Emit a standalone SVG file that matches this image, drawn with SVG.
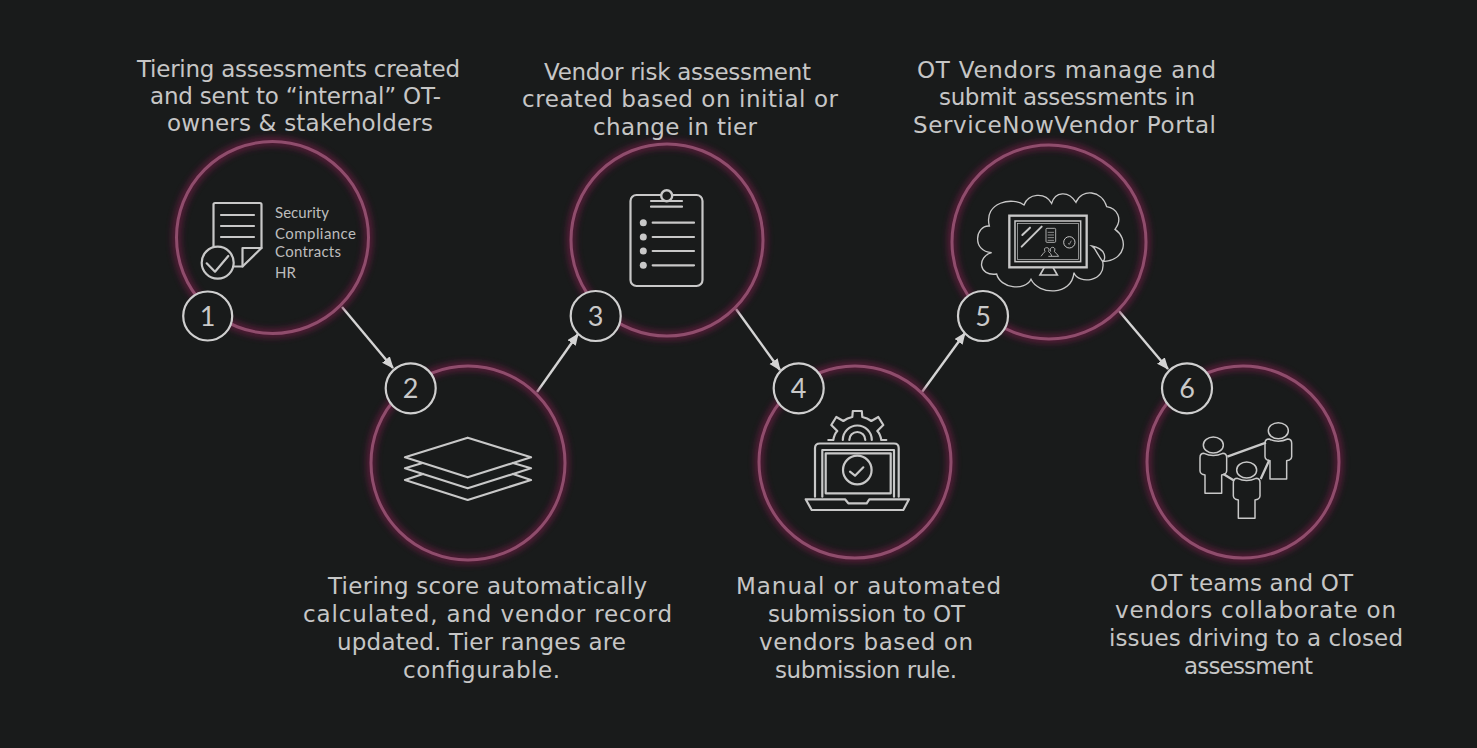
<svg xmlns="http://www.w3.org/2000/svg" xmlns:xlink="http://www.w3.org/1999/xlink" width="1477" height="748" viewBox="0 0 1477 748">
<style>
.bg{fill:#191b1b}
.glow{fill:none;stroke:#7a1d4a;stroke-width:9;opacity:.62}
.ring{fill:none;stroke:#8f4d6c;stroke-width:3}
.num{fill:#191b1b;stroke:#cfcfcf;stroke-width:2.2}
.numt{font-family:"Lato","Noto Sans",sans-serif;font-size:27px;fill:#c9c9c9;text-anchor:middle}
.cap{font-family:"DejaVu Sans","Liberation Sans",sans-serif;font-size:23px;fill:#c6c6c6}
.small{font-family:"Lato","Noto Sans",sans-serif;font-size:15px;fill:#bdbdbd}
.ic{fill:none;stroke:#c8c8c8;stroke-width:2.2;stroke-linejoin:round;stroke-linecap:round}
.thin{fill:none;stroke:#c8c8c8;stroke-width:1.5;stroke-linejoin:round;stroke-linecap:round}
.dot{fill:#c8c8c8}
.arr{stroke:#d4d4d4;stroke-width:2.4;fill:none;marker-end:url(#ah)}
</style>
<defs>
<marker id="ah" markerUnits="userSpaceOnUse" markerWidth="14" markerHeight="12" refX="11" refY="5" orient="auto"><path d="M0 0L12 5L0 10Z" fill="#d4d4d4"/></marker>
<filter id="blur" x="-20%" y="-20%" width="140%" height="140%"><feGaussianBlur stdDeviation="3.2"/></filter>
<g id="person" fill="#191b1b" stroke="#c8c8c8" stroke-width="4.5" stroke-linejoin="round">
<ellipse cx="0" cy="0" rx="30" ry="24"/>
<path d="M-25 145V90L-33 88Q-40 85-40 78V38Q-40 25-28 25Q0 38 28 25Q40 25 40 38V78Q40 85 33 88L25 90V145Z"/>
</g>
</defs>
<rect class="bg" width="1477" height="748"/>

<g id="connectors">
<path class="arr" d="M342 307L393 368"/>
<path class="arr" d="M537 392L578 334"/>
<path class="arr" d="M736 309L780 370"/>
<path class="arr" d="M922 392L965 333"/>
<path class="arr" d="M1119 311L1168 369"/>
</g>

<g id="node1">
<circle class="glow" cx="272.500" cy="237.500" r="96" filter="url(#blur)"/>
<circle class="ring" cx="272.500" cy="237.500" r="96"/>
<path class="ic" d="M213.500 247V204.500Q213.500 203 215 203H260Q261.500 203 261.500 204.500V248L242.500 266.500H233"/>
<path class="ic" d="M242.500 266.500V248H261.500M221 215H254M221 226H254M221 237H254"/>
<circle class="ic" cx="217.700" cy="262.700" r="16"/>
<path class="ic" d="M206.700 263.300L215 271.700L228.300 256" stroke-width="2.600"/>
<text class="small" x="275" y="218" textLength="54">Security</text>
<text class="small" x="275" y="239" textLength="81">Compliance</text>
<text class="small" x="275" y="257" textLength="66">Contracts</text>
<text class="small" x="275" y="278" textLength="21">HR</text>
<circle class="num" cx="207.700" cy="316" r="24.500"/>
<text class="numt" x="207.700" y="325.500">1</text>
<text class="cap" x="137" y="77" textLength="323">Tiering assessments created</text>
<text class="cap" x="150" y="104" textLength="291">and sent to “internal” OT-</text>
<text class="cap" x="167" y="131" textLength="266">owners &amp; stakeholders</text>
</g>

<g id="node2">
<circle class="glow" cx="468" cy="463" r="97" filter="url(#blur)"/>
<circle class="ring" cx="468" cy="463" r="97"/>
<path class="ic" d="M467.700 437.700L531 457.300L467.700 477.300L405 457.300Z"/>
<path class="ic" d="M421.700 463.300L405 468.300L467.700 488.300L531 468.300L513 463"/>
<path class="ic" d="M423 474L405 480L467.700 500L531 480L513 474"/>
<circle class="num" cx="410.700" cy="388.300" r="25"/>
<text class="numt" x="410.700" y="397.500">2</text>
<text class="cap" x="328" y="594" textLength="319">Tiering score automatically</text>
<text class="cap" x="303" y="622" textLength="369">calculated, and vendor record</text>
<text class="cap" x="337" y="650" textLength="289">updated. Tier ranges are</text>
<text class="cap" x="403" y="678" textLength="157">configurable.</text>
</g>

<g id="node3">
<circle class="glow" cx="667" cy="240" r="96" filter="url(#blur)"/>
<circle class="ring" cx="667" cy="240" r="96"/>
<rect class="ic" x="630.500" y="195" width="72" height="91" rx="6" stroke-width="2.600"/>
<circle cx="666.700" cy="195.700" r="5.500" fill="#191b1b" stroke="#c8c8c8" stroke-width="2.400"/>
<path class="ic" d="M651 201H682M651 206.700H682M652.700 222.700H694M652.700 237H694M652.700 251H694M652.700 265.300H694" stroke-width="2.600"/>
<circle class="dot" cx="643.300" cy="222.700" r="3.500"/>
<circle class="dot" cx="643.300" cy="237" r="3.500"/>
<circle class="dot" cx="643.300" cy="251" r="3.500"/>
<circle class="dot" cx="643.300" cy="265.300" r="3.500"/>
<circle class="num" cx="595.700" cy="316" r="25"/>
<text class="numt" x="595.700" y="325.500">3</text>
<text class="cap" x="544" y="80" textLength="267">Vendor risk assessment</text>
<text class="cap" x="522" y="107" textLength="316">created based on initial or</text>
<text class="cap" x="593" y="135" textLength="164">change in tier</text>
</g>

<g id="node4">
<circle class="glow" cx="855" cy="462" r="96" filter="url(#blur)"/>
<circle class="ring" cx="855" cy="462" r="96"/>
<g transform="translate(857.300 440)">
<path class="ic" d="M-29 0H-24Q-23-6-20-9L-26-15L-21-23L-14-19Q-10-22-5-23L-4.500-29H4.500L5-23Q10-22 14-19L21-23L26-15L20-9Q23-6 24 0H29"/>
<path class="ic" d="M-14.500 0A14.500 14.500 0 0 1 14.500 0M-8 0A8 8 0 0 1 8 0" stroke-width="2.400"/>
</g>
<path class="ic" d="M815 496.700V448Q815 443.500 820 443.500H894Q898.700 443.500 898.700 448V496.700"/>
<path class="ic" d="M822.300 496.700V450H894V496.700"/>
<rect class="ic" x="825.700" y="453.300" width="65" height="40"/>
<circle class="ic" cx="857.300" cy="470" r="14.300" stroke-width="1.800"/>
<path class="ic" d="M850 471.700L855 475.700L863.300 467.300"/>
<path class="ic" d="M805.700 499.300H845L848.300 503.300H866.700L869.300 499.300H909L903.300 510H811.700Z"/>
<circle class="num" cx="798.700" cy="388.300" r="25"/>
<text class="numt" x="798.700" y="397.500">4</text>
<text class="cap" x="736" y="594" textLength="265">Manual or automated</text>
<text class="cap" x="768" y="622" textLength="197">submission to OT</text>
<text class="cap" x="759" y="650" textLength="214">vendors based on</text>
<text class="cap" x="775" y="678" textLength="182">submission rule.</text>
</g>

<g id="node5">
<circle class="glow" cx="1049" cy="242" r="97" filter="url(#blur)"/>
<circle class="ring" cx="1049" cy="242" r="97"/>
<g transform="translate(950 160) scale(.33333)">
<path fill="none" stroke="#c8c8c8" stroke-width="4" stroke-linecap="round" d="M118 198C75 195 65 275 125 278C80 290 85 350 140 342C150 385 225 395 243 358C265 405 365 410 372 338C385 375 470 365 458 305C425 255 440 270 425 258C470 265 468 300 458 305C530 300 535 235 495 208C520 175 500 145 470 140C455 90 395 85 378 127C355 90 315 95 305 130C285 95 235 100 222 135C190 110 100 125 118 198Z"/>
<g fill="none" stroke="#c8c8c8">
<rect x="178" y="167" width="232" height="155" stroke-width="7" fill="#191b1b"/>
<rect x="195" y="183" width="197" height="122" stroke-width="4.500"/>
<rect x="203" y="190" width="182" height="108" stroke-width="2"/>
<path d="M283 322L270 345H322L309 322" stroke-width="5"/>
<path d="M217 225L240 203M215 260L275 200" stroke-width="6" stroke-linecap="round"/>
<rect x="288" y="205" width="29" height="42" rx="3" stroke-width="2.500"/>
<path d="M293 217H312M293 225H312M293 233H312M293 241H312" stroke-width="2"/>
<circle cx="358" cy="247" r="17" stroke-width="3"/>
<path d="M354 250L358 253L364 242" stroke-width="2"/>
<path d="M273 289Q281 278 285 275Q280 263 290 263Q300 263 296 275Q303 280 305 288M295 289H326Q320 280 313 275Q318 263 308 262Q298 263 302 275" stroke-width="2.500"/>
</g>
</g>
<circle class="num" cx="983" cy="316" r="25"/>
<text class="numt" x="983" y="325.500">5</text>
<text class="cap" x="917" y="78" textLength="299">OT Vendors manage and</text>
<text class="cap" x="939" y="105" textLength="256">submit assessments in</text>
<text class="cap" x="913" y="133" textLength="303">ServiceNowVendor Portal</text>
</g>

<g id="node6">
<circle class="glow" cx="1243" cy="462" r="96" filter="url(#blur)"/>
<circle class="ring" cx="1243" cy="462" r="96"/>
<g transform="translate(1140 360) scale(.33333)">
<use xlink:href="#person" href="#person" x="220" y="255"/>
<use xlink:href="#person" href="#person" x="415" y="212"/>
<use xlink:href="#person" href="#person" x="320" y="330"/>
<path d="M262 290L378 248M250 342L283 362M362 357L388 300" stroke="#c8c8c8" stroke-width="7" fill="none"/>
</g>
<circle class="num" cx="1187" cy="388.300" r="25"/>
<text class="numt" x="1187" y="397.500">6</text>
<text class="cap" x="1150" y="591" textLength="203">OT teams and OT</text>
<text class="cap" x="1115" y="618" textLength="281">vendors collaborate on</text>
<text class="cap" x="1109" y="646" textLength="294">issues driving to a closed</text>
<text class="cap" x="1184" y="674" textLength="129">assessment</text>
</g>
</svg>
